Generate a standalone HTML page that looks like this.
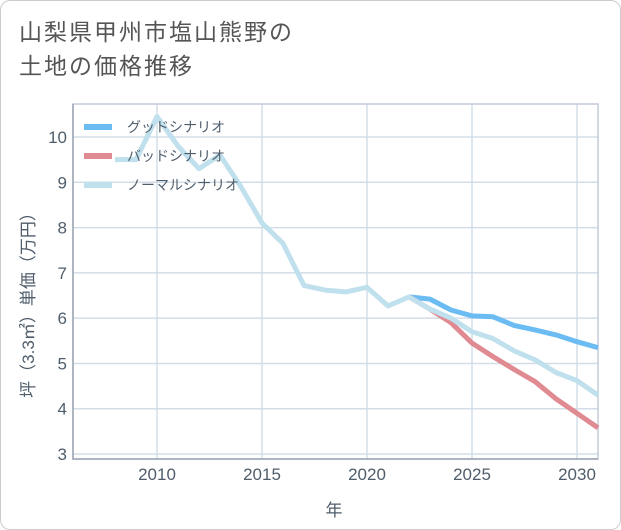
<!DOCTYPE html>
<html><head><meta charset="utf-8"><style>
body{margin:0;background:#fff;font-family:"Liberation Sans","Noto Sans CJK JP",sans-serif;}
#wrap{position:relative;width:619px;height:528px;border:1px solid #ccc;border-radius:10px;background:#fff;overflow:hidden}
#title{position:absolute;left:18px;top:14px;font-size:23px;line-height:34px;color:#555;letter-spacing:2px}
svg{position:absolute;left:0;top:0}
</style></head><body>
<div id="wrap">
<div id="title">山梨県甲州市塩山熊野の<br>土地の価格推移</div>
<svg id="c" width="621" height="530"></svg>
</div>
<script>
const years=[2008,2009,2010,2011,2012,2013,2014,2015,2016,2017,2018,2019,2020,2021,2022,2023,2024,2025,2026,2027,2028,2029,2030,2031];
const normal=[9.5,9.5,10.45,9.8,9.3,9.6,8.9,8.1,7.65,6.72,6.62,6.58,6.68,6.27,6.47,6.2,6.0,5.7,5.55,5.28,5.08,4.8,4.62,4.3];
const goodYears=[2022,2023,2024,2025,2026,2027,2028,2029,2030,2031];
const good=[6.47,6.42,6.18,6.05,6.03,5.84,5.74,5.63,5.48,5.35];
const bad=[6.47,6.2,5.9,5.45,5.15,4.87,4.6,4.22,3.9,3.58];
const xTicks=[2010,2015,2020,2025,2030];
const yTicks=[3,4,5,6,7,8,9,10];
const L=72,R=597,T=103,B=458;
const X=y=>L+(y-2006)*(R-L)/25;
const Y=v=>136+(10-v)*45.29;
const s=document.getElementById('c');const NS='http://www.w3.org/2000/svg';
const TC='#4f5d6b';
function mk(t,a,p){const e=document.createElementNS(NS,t);for(const k in a)e.setAttribute(k,a[k]);(p||s).appendChild(e);return e;}
for(const t of xTicks){const g=mk('line',{x1:X(t),x2:X(t),y1:T,y2:B,stroke:'#d3dde8','stroke-width':1.5});


const tx=mk('text',{x:X(t),y:B+21,'text-anchor':'middle','font-size':17,fill:TC});tx.textContent=t;

}
for(const t of yTicks){const g=mk('line',{x1:L,x2:R,y1:Y(t),y2:Y(t),stroke:'#d3dde8','stroke-width':1.5});


const tx=mk('text',{x:L-6,y:Y(t)+6,'text-anchor':'end','font-size':17,fill:TC});tx.textContent=t;

}
const fr=mk('rect',{x:L,y:T,width:R-L,height:B-T,fill:'none',stroke:'#c2ccd8','stroke-width':1.5});


const ax=mk('polyline',{points:`${L},${T} ${L},${B} ${R},${B}`,fill:'none',stroke:'#9aa5b1','stroke-width':1.5});


function line(xs,vs,c,n){const p=mk('polyline',{points:xs.map((y,i)=>X(y)+','+Y(vs[i])).join(' '),fill:'none',stroke:c,'stroke-width':5,'stroke-linejoin':'round'});

}
line(goodYears,good,'#6bbcf3','good-scenario-line');
line(goodYears,bad,'#e08a92','bad-scenario-line');
line(years,normal,'#bfe0ec','normal-scenario-line');
const leg=[['グッドシナリオ','#6bbcf3'],['バッドシナリオ','#e08a92'],['ノーマルシナリオ','#bfe0ec']];
leg.forEach((l,i)=>{const y=126+i*29;
const ln=mk('line',{x1:83,x2:111,y1:y,y2:y,stroke:l[1],'stroke-width':6});


const t=mk('text',{x:126,y:y+5,'font-size':14,fill:TC});t.textContent=l[0];

});
const xt=mk('text',{x:333,y:515,'text-anchor':'middle','font-size':17,fill:TC});xt.textContent='年';


const yt=mk('text',{x:0,y:0,'text-anchor':'middle','font-size':17,fill:TC,transform:'translate(33,300) rotate(-90)'});yt.textContent='坪（3.3㎡）単価（万円）';


</script>
</body></html>
